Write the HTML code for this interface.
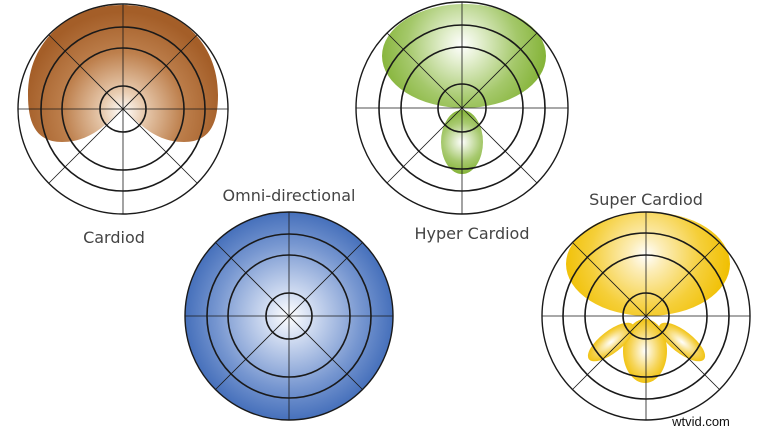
<!DOCTYPE html>
<html><head><style>body{margin:0;background:#fff}svg{display:block}</style></head><body>
<svg width="764" height="430" viewBox="0 0 764 430" xmlns="http://www.w3.org/2000/svg">
<defs>
<radialGradient id="gb" cx="123" cy="112" r="100" gradientUnits="userSpaceOnUse"><stop offset="0" stop-color="#fff"/><stop offset="0.2" stop-color="#e9cdb2"/><stop offset="0.6" stop-color="#bd7f4c"/><stop offset="1" stop-color="#a45e28"/></radialGradient>
<radialGradient id="gg" cx="462" cy="45" r="85" gradientUnits="userSpaceOnUse"><stop offset="0" stop-color="#fff"/><stop offset="0.2" stop-color="#e5f0d2"/><stop offset="0.65" stop-color="#a4c86a"/><stop offset="1" stop-color="#84b337"/></radialGradient>
<radialGradient id="gg2" cx="462" cy="142" r="32" gradientUnits="userSpaceOnUse"><stop offset="0" stop-color="#fff"/><stop offset="0.6" stop-color="#a8ca70"/><stop offset="1" stop-color="#84b337"/></radialGradient>
<radialGradient id="gy" cx="646" cy="255" r="85" gradientUnits="userSpaceOnUse"><stop offset="0" stop-color="#fff"/><stop offset="0.2" stop-color="#fcedb8"/><stop offset="0.65" stop-color="#f5cf3a"/><stop offset="1" stop-color="#f0bf00"/></radialGradient>
<radialGradient id="gy2" cx="0.5" cy="0.5" r="0.55"><stop offset="0" stop-color="#fff"/><stop offset="0.6" stop-color="#f6d55a"/><stop offset="1" stop-color="#f0bf00"/></radialGradient>
<radialGradient id="gbl" cx="289" cy="316" r="104" gradientUnits="userSpaceOnUse"><stop offset="0" stop-color="#fff"/><stop offset="0.2" stop-color="#d6e0f3"/><stop offset="0.7" stop-color="#7696d0"/><stop offset="1" stop-color="#4670bb"/></radialGradient>
</defs>
<g fill="none">
<path d="M123,109 C105,125 90,142 62,142 C34,142 28,120 28,95 C28,40 70,5 123,5 C176,5 218,40 218,95 C218,120 212,142 184,142 C156,142 141,125 123,109 Z" fill="url(#gb)"/>
<ellipse cx="464" cy="56" rx="82" ry="52" fill="url(#gg)"/>
<ellipse cx="462" cy="142" rx="21" ry="32" fill="url(#gg2)"/>
<ellipse cx="648" cy="264" rx="82" ry="52" fill="url(#gy)"/>
<ellipse cx="645" cy="351" rx="22" ry="32" fill="url(#gy2)"/>
<ellipse cx="0" cy="0" rx="28" ry="11" fill="url(#gy2)" transform="translate(611,342) rotate(-38)"/>
<ellipse cx="0" cy="0" rx="28" ry="11" fill="url(#gy2)" transform="translate(682,342) rotate(38)"/>
<circle cx="289" cy="316" r="104" fill="url(#gbl)"/>
</g>
<g stroke="#1a1a1a" fill="none">
<g transform="translate(123,109)"><circle r="105" stroke-width="1.4"/><circle r="82" stroke-width="1.6"/><circle r="61" stroke-width="1.6"/><circle r="23" stroke-width="1.6"/><path d="M-105,0H105M0,-105V105M-74,-74L74,74M-74,74L74,-74" stroke-width="0.8"/></g>
<g transform="translate(462,108)"><circle r="106" stroke-width="1.4"/><circle r="83" stroke-width="1.6"/><circle r="61" stroke-width="1.6"/><circle r="24" stroke-width="1.6"/><path d="M-106,0H106M0,-106V106M-75,-75L75,75M-75,75L75,-75" stroke-width="0.8"/></g>
<g transform="translate(289,316)"><circle r="104" stroke-width="1.4"/><circle r="82" stroke-width="1.6"/><circle r="61" stroke-width="1.6"/><circle r="23" stroke-width="1.6"/><path d="M-104,0H104M0,-104V104M-73.5,-73.5L73.5,73.5M-73.5,73.5L73.5,-73.5" stroke-width="0.8"/></g>
<g transform="translate(646,316)"><circle r="104" stroke-width="1.4"/><circle r="83" stroke-width="1.6"/><circle r="61" stroke-width="1.6"/><circle r="23" stroke-width="1.6"/><path d="M-104,0H104M0,-104V104M-73.5,-73.5L73.5,73.5M-73.5,73.5L73.5,-73.5" stroke-width="0.8"/></g>
</g>
<g font-family="'DejaVu Sans','Liberation Sans',sans-serif" font-size="16" fill="#444" text-anchor="middle">
<text x="114" y="243">Cardiod</text>
<text x="289" y="201">Omni-directional</text>
<text x="472" y="239">Hyper Cardiod</text>
<text x="646" y="205">Super Cardiod</text>
</g>
<text x="701" y="426" font-family="'Liberation Sans',sans-serif" font-size="13" fill="#111" text-anchor="middle">wtvid.com</text>
</svg>
</body></html>
